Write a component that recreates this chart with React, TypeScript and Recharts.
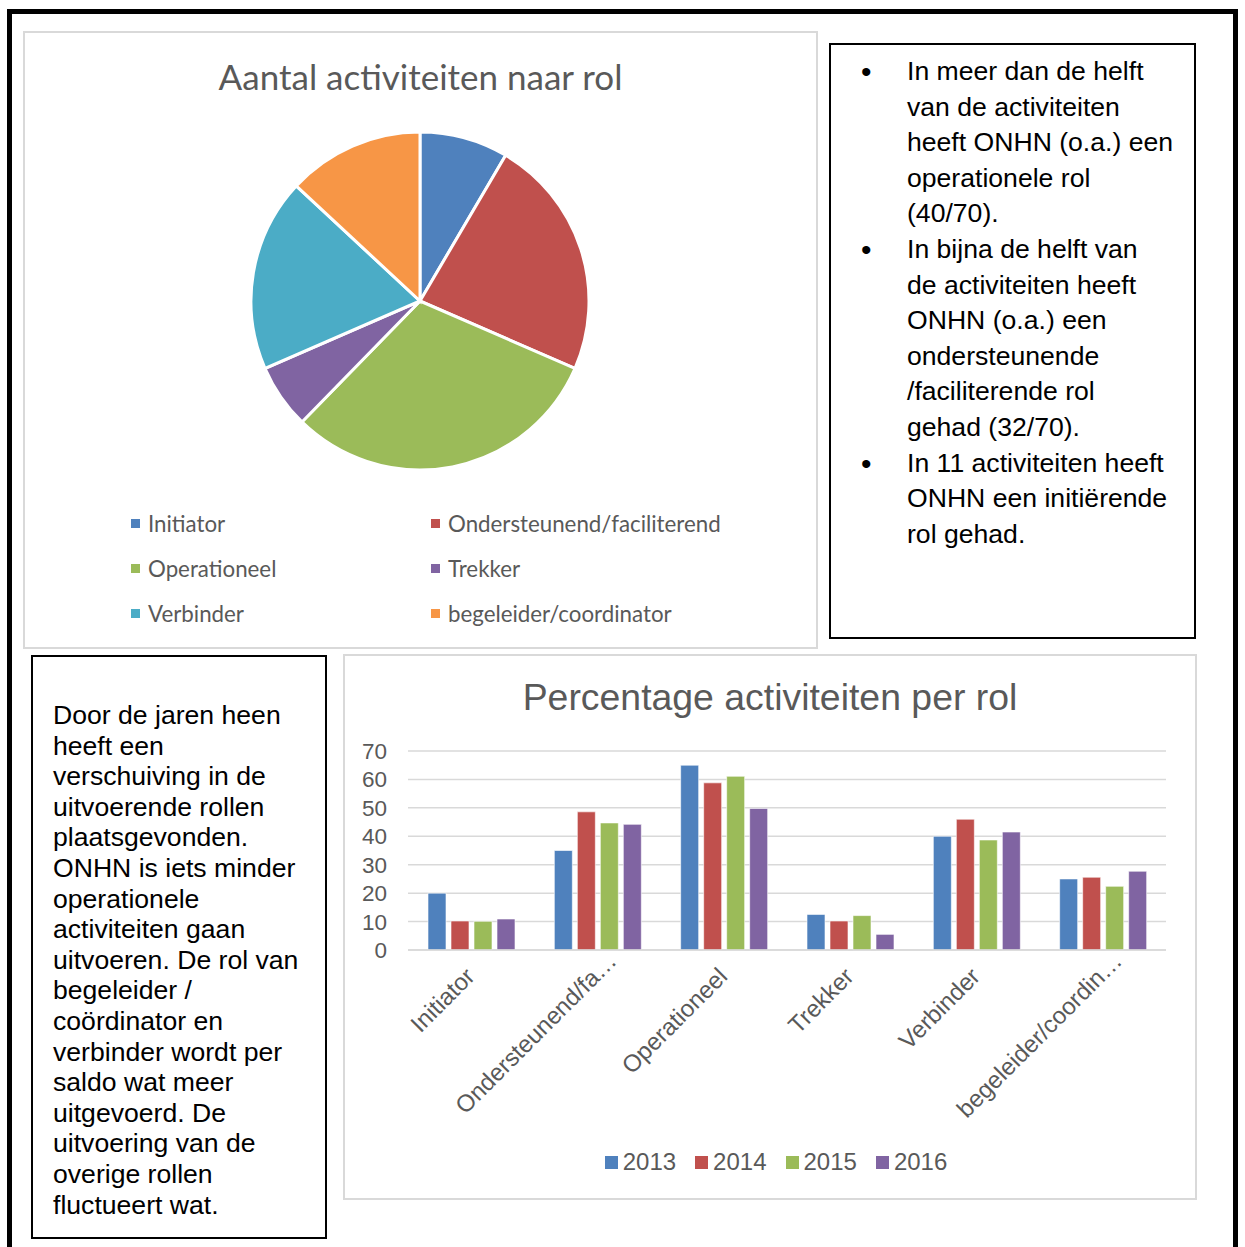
import React from 'react';
import { PieChart, Pie, Cell, BarChart, Bar, XAxis, YAxis, CartesianGrid } from 'recharts';

// ---- Pie data ----
const pieRoles = ['Initiator', 'Ondersteunend/faciliterend', 'Operationeel', 'Trekker', 'Verbinder', 'begeleider/coordinator'];
const pieCounts = [11, 30, 40, 8, 24, 17];
const pieColors = ['#4f81bd', '#c0504d', '#9bbb59', '#8064a2', '#4bacc6', '#f79646'];

// ---- Bar data ----
const barCategories = ['Initiator', 'Ondersteunend/faciliterend', 'Operationeel', 'Trekker', 'Verbinder', 'begeleider/coordinator'];
const barTickLabels = ['Initiator', 'Ondersteunend/fa…', 'Operationeel', 'Trekker', 'Verbinder', 'begeleider/coordin…'];
const years = ['2013', '2014', '2015', '2016'];
const yearColors = ['#4f81bd', '#c0504d', '#9bbb59', '#8064a2'];
const values2013 = [20, 35, 65, 12.5, 40, 25];
const values2014 = [10.2, 48.6, 58.8, 10.2, 46, 25.6];
const values2015 = [10.1, 44.7, 61.1, 12.1, 38.7, 22.4];
const values2016 = [10.9, 44.2, 49.8, 5.5, 41.5, 27.7];
const yTicks = [0, 10, 20, 30, 40, 50, 60, 70];

const pieData = pieRoles.map((name, i) => ({ name, value: pieCounts[i] }));
const barData = barCategories.map((name, i) => ({
  name,
  '2013': values2013[i],
  '2014': values2014[i],
  '2015': values2015[i],
  '2016': values2016[i],
}));

const rightBullets = [
  ['In meer dan de helft', 'van de activiteiten', 'heeft ONHN (o.a.) een', 'operationele rol', '(40/70).'],
  ['In bijna de helft van', 'de activiteiten heeft', 'ONHN (o.a.) een', 'ondersteunende', '/faciliterende rol', 'gehad (32/70).'],
  ['In 11 activiteiten heeft', 'ONHN een initiërende', 'rol gehad.'],
];
const leftLines = [
  'Door de jaren heen', 'heeft een', 'verschuiving in de', 'uitvoerende rollen', 'plaatsgevonden.',
  'ONHN is iets minder', 'operationele', 'activiteiten gaan', 'uitvoeren. De rol van', 'begeleider /',
  'coördinator en', 'verbinder wordt per', 'saldo wat meer', 'uitgevoerd. De', 'uitvoering van de',
  'overige rollen', 'fluctueert wat.',
];

const ARIAL = '"Liberation Sans", Arial, sans-serif';
const CALIBRI = 'Lato, "Open Sans", sans-serif';
const GREY = '#595959';

const XTick = (props: any) => {
  const { x, y, index } = props;
  const label = barTickLabels[index];
  const truncated = label.endsWith('…');
  return (
    <g transform={`translate(${x + 5},${y + 20})`}>
      <text transform="rotate(-45)" textAnchor="end" dx={truncated ? 22 : 0} fill={GREY} fontSize={24} fontFamily={ARIAL}>
        {label}
      </text>
    </g>
  );
};

export default function App() {
  const abs = (l: number, t: number, w: number, h: number): React.CSSProperties => ({
    position: 'absolute', left: l, top: t, width: w, height: h, boxSizing: 'border-box',
  });
  return (
    <div style={{ position: 'absolute', left: 0, top: 0, width: 1245, height: 1247, overflow: 'hidden', background: '#fff' }}>
      {/* outer black frame */}
      <div style={{ ...abs(7, 9, 1231, 1300), border: '5px solid #000' }} />

      {/* Pie chart box */}
      <div style={{ ...abs(23, 31, 795, 618), border: '2px solid #d9d9d9' }} />
      <div style={{ position: 'absolute', left: 23, top: 55, width: 795, textAlign: 'center', fontFamily: CALIBRI, fontSize: 35, color: GREY, lineHeight: '42px' }}>
        Aantal activiteiten naar rol
      </div>
      <div style={{ position: 'absolute', left: 23, top: 31 }}>
        <PieChart width={795} height={480} margin={{ top: 0, right: 0, bottom: 0, left: 0 }}>
          <Pie
            data={pieData}
            dataKey="value"
            cx={397}
            cy={270}
            outerRadius={169}
            startAngle={90}
            endAngle={-270}
            stroke="#fff"
            strokeWidth={3}
            isAnimationActive={false}
          >
            {pieData.map((d, i) => (
              <Cell key={d.name} fill={pieColors[i]} />
            ))}
          </Pie>
        </PieChart>
      </div>
      {pieRoles.map((r, i) => {
        const col = i % 2;
        const row = Math.floor(i / 2);
        const left = col === 0 ? 131 : 431;
        const cy = 523 + row * 45;
        return (
          <div key={r} style={{ position: 'absolute', left, top: cy - 14, height: 28, display: 'flex', alignItems: 'center', fontFamily: CALIBRI, fontSize: 22.3, color: GREY }}>
            <span style={{ display: 'inline-block', width: 9, height: 9, background: pieColors[i], marginRight: 8 }} />
            <span>{r}</span>
          </div>
        );
      })}

      {/* Right text box */}
      <div style={{ ...abs(829, 43, 367, 596), border: '2px solid #000' }} />
      <div style={{ position: 'absolute', left: 858, top: 54, fontFamily: ARIAL, fontSize: 26.6, lineHeight: '35.6px', color: '#000' }}>
        {rightBullets.map((b, i) => (
          <div key={i} style={{ position: 'relative', paddingLeft: 49 }}>
            <span style={{ position: 'absolute', left: 3, top: 0, fontSize: 30 }}>•</span>
            {b.map((l, j) => (
              <div key={j} style={{ whiteSpace: 'nowrap' }}>{l}</div>
            ))}
          </div>
        ))}
      </div>

      {/* Left text box */}
      <div style={{ ...abs(31, 655, 296, 584), border: '2px solid #000' }} />
      <div style={{ position: 'absolute', left: 53, top: 700, fontFamily: ARIAL, fontSize: 26.6, lineHeight: '30.6px', color: '#000' }}>
        {leftLines.map((l, i) => (
          <div key={i} style={{ whiteSpace: 'nowrap' }}>{l}</div>
        ))}
      </div>

      {/* Bar chart box */}
      <div style={{ ...abs(343, 654, 854, 546), border: '2px solid #d9d9d9' }} />
      <div style={{ position: 'absolute', left: 343, top: 675, width: 854, textAlign: 'center', fontFamily: ARIAL, fontSize: 37.4, color: GREY, lineHeight: '44px' }}>
        Percentage activiteiten per rol
      </div>
      <div style={{ position: 'absolute', left: 343, top: 655 }}>
        <BarChart
          width={853}
          height={544}
          data={barData}
          margin={{ top: 96, right: 30, bottom: 0, left: 0 }}
          barGap={5}
          barSize={18}
        >
          <CartesianGrid vertical={false} stroke="#d9d9d9" strokeWidth={1.5} />
          <XAxis
            dataKey="name"
            height={249}
            interval={0}
            tickLine={false}
            axisLine={{ stroke: '#d9d9d9', strokeWidth: 1.5 }}
            tick={<XTick />}
          />
          <YAxis
            width={65}
            domain={[0, 70]}
            ticks={yTicks}
            interval={0}
            tickLine={false}
            axisLine={false}
            tickSize={0}
            tickMargin={21}
            tick={{ fill: GREY, fontSize: 22.5, fontFamily: ARIAL }}
          />
          {years.map((y, i) => (
            <Bar key={y} dataKey={y} fill={yearColors[i]} stroke="#ffffff" strokeWidth={0.6} isAnimationActive={false} />
          ))}
        </BarChart>
      </div>
      <div style={{ position: 'absolute', left: 349, top: 1148, width: 854, display: 'flex', justifyContent: 'center', fontFamily: ARIAL, fontSize: 24, color: GREY, lineHeight: '28px' }}>
        {years.map((y, i) => (
          <div key={y} style={{ display: 'flex', alignItems: 'center', marginRight: i < years.length - 1 ? 19 : 0 }}>
            <span style={{ display: 'inline-block', width: 13, height: 13, background: yearColors[i], marginRight: 5 }} />
            <span>{y}</span>
          </div>
        ))}
      </div>
    </div>
  );
}
